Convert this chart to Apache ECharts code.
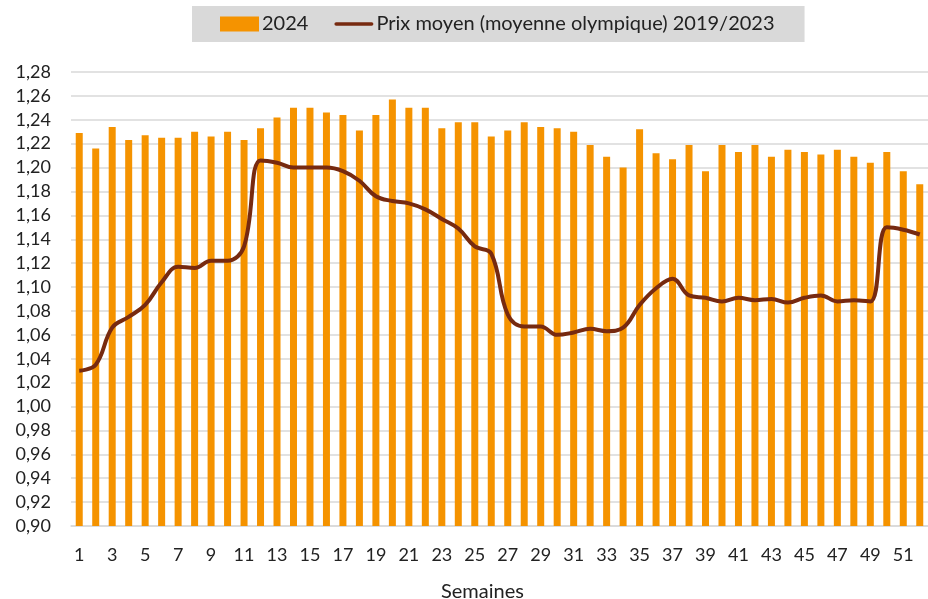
<!DOCTYPE html>
<html>
<head>
<meta charset="utf-8">
<script src="https://cdn.jsdelivr.net/npm/echarts@6/dist/echarts.min.js"></script>
<style>
    html, body { margin: 0; padding: 0; background: #fff; }
    #chart { width: 928px; height: 599px; }
</style>
</head>
<body>
<div id="chart"></div>
<script>
    // semaines 1..52
    var semaines = [];
    for (var i = 1; i <= 52; i++) { semaines.push(String(i)); }

    // prix 2024 (barres)
    var prix2024 = [
        1.229, 1.216, 1.234, 1.223, 1.227, 1.225, 1.225, 1.230, 1.226, 1.230,
        1.223, 1.233, 1.242, 1.250, 1.250, 1.246, 1.244, 1.231, 1.244, 1.257,
        1.250, 1.250, 1.233, 1.238, 1.238, 1.226, 1.231, 1.238, 1.234, 1.233,
        1.230, 1.219, 1.209, 1.200, 1.232, 1.212, 1.207, 1.219, 1.197, 1.219,
        1.213, 1.219, 1.209, 1.215, 1.213, 1.211, 1.215, 1.209, 1.204, 1.213,
        1.197, 1.186
    ];

    // moyenne olympique 2019/2023 (courbe)
    var prixMoyen = [
        1.030, 1.035, 1.066, 1.075, 1.085, 1.104, 1.117, 1.116, 1.122, 1.122,
        1.134, 1.206, 1.204, 1.200, 1.200, 1.200, 1.197, 1.189, 1.176, 1.172,
        1.170, 1.165, 1.157, 1.149, 1.134, 1.128, 1.077, 1.067, 1.067, 1.060,
        1.062, 1.065, 1.063, 1.066, 1.085, 1.099, 1.107, 1.093, 1.091, 1.088,
        1.091, 1.089, 1.090, 1.087, 1.091, 1.093, 1.088, 1.089, 1.088, 1.150,
        1.148, 1.144
    ];

    var police = 'Lato, "Liberation Sans", sans-serif';

    var chart = echarts.init(document.getElementById('chart'));
    var option = {
        animation: false,
        title: {
            text: 'Semaines',
            left: 436,
            top: 577,
            textStyle: { fontFamily: police, fontSize: 20, fontWeight: 'normal', color: '#222' }
        },
        legend: {
            left: 192,
            top: 6,
            padding: [8, 30, 8, 28],
            backgroundColor: '#d9d9d9',
            itemWidth: 39,
            itemHeight: 15,
            itemGap: 26,
            textStyle: { fontFamily: police, fontSize: 20, color: '#222', padding: [0, 0, 0, -2] },
            data: [
                { name: '2024', icon: 'rect' },
                { name: 'Prix moyen (moyenne olympique) 2019/2023', icon: 'path://M2,0L42,0A2,2,0,0,1,42,4L2,4A2,2,0,0,1,2,0Z' }
            ]
        },
        grid: {
            left: 71,
            top: 72,
            width: 863,
            height: 454
        },
        xAxis: {
            type: 'category',
            data: semaines,
            axisTick: { show: false },
            axisLine: { lineStyle: { color: '#d9d9d9', width: 1.5 } },
            axisLabel: {
                interval: 1,
                margin: 20,
                fontFamily: police,
                fontSize: 18,
                color: '#222'
            }
        },
        yAxis: {
            type: 'value',
            min: 0.9,
            max: 1.28,
            interval: 0.02,
            axisLine: { show: false },
            axisTick: { show: false },
            splitLine: { lineStyle: { color: '#d9d9d9', width: 1.5 } },
            axisLabel: {
                margin: 20,
                fontFamily: police,
                fontSize: 18,
                color: '#222',
                formatter: function (v) { return v.toFixed(2).replace('.', ','); }
            }
        },
        series: [
            {
                name: '2024',
                type: 'bar',
                data: prix2024,
                barWidth: 7,
                itemStyle: { color: '#f59300' }
            },
            {
                name: 'Prix moyen (moyenne olympique) 2019/2023',
                type: 'line',
                data: prixMoyen,
                smooth: 0.4,
                symbol: 'none',
                z: 5,
                lineStyle: { color: '#772a10', width: 4 },
                itemStyle: { color: '#772a10' }
            }
        ]
    };
    chart.setOption(option);
    window.addEventListener('resize', function () {
        chart.resize();
    });
</script>
</body>
</html>
